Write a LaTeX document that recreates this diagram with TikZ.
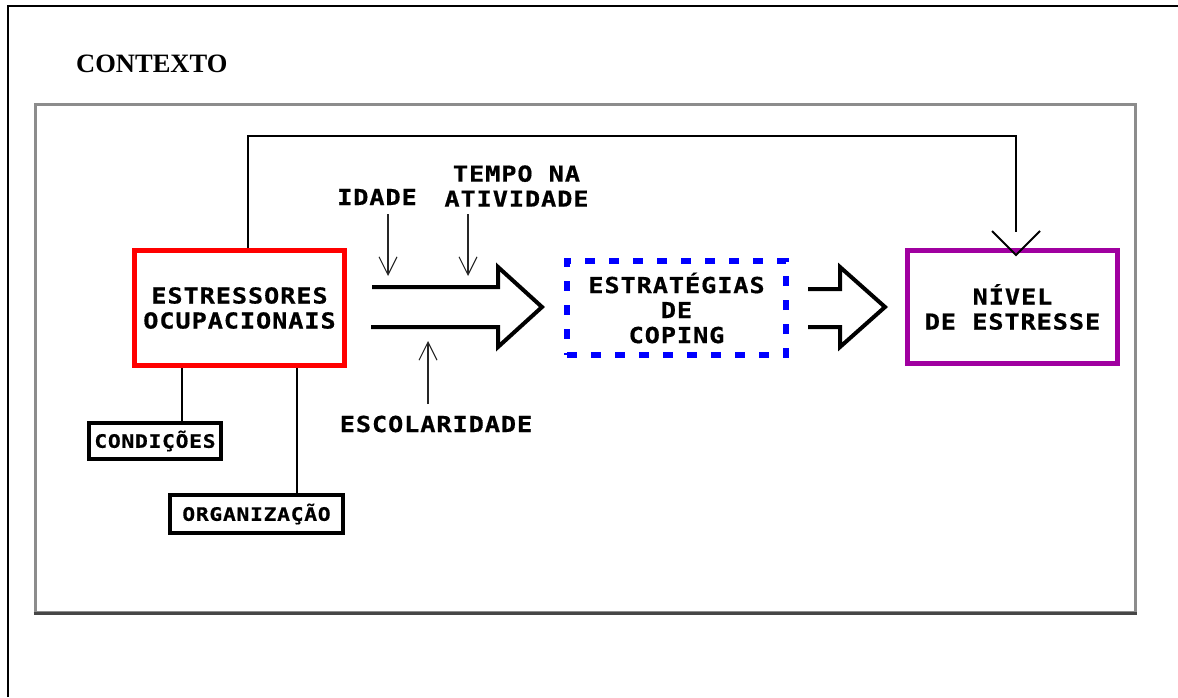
\documentclass[tikz,border=0pt]{standalone}
\usepackage{fontspec}
\setmainfont{Liberation Serif}
\newfontfamily\pix[FakeStretch=1.15,LetterSpace=4,FakeBold=0.6]{DejaVu Sans Mono}
\usetikzlibrary{arrows.meta,calc}
\definecolor{boxred}{RGB}{255,0,0}
\definecolor{boxblue}{RGB}{0,0,255}
\definecolor{boxpurple}{RGB}{160,0,160}
\definecolor{framegray}{RGB}{140,140,140}
\definecolor{framedark}{RGB}{70,70,70}
\begin{document}
\begin{tikzpicture}[x=1pt,y=-1pt,line join=miter,
  bigtext/.style={font=\pix\bfseries\fontsize{22}{25}\selectfont},
  smalltext/.style={font=\pix\bfseries\fontsize{18.5}{22}\selectfont},
  mainbox/.style={draw, line width=5pt, inner sep=0pt, align=center, bigtext},
  subbox/.style={draw, line width=3.5pt, inner sep=0pt, align=center, smalltext},
  label/.style={inner sep=0pt, align=center, bigtext},
  thinarrow/.style={line width=1.1pt, draw=black!85, -{Straight Barb[length=18pt,width=18pt,line width=1.1pt]}},
  blockarrow/.style={line width=4pt, line join=miter, miter limit=10},
  link/.style={line width=1.5pt}]
\useasboundingbox (0,0) rectangle (1178,697);
% outer frame
\draw[line width=2pt] (8,697) -- (8,6) -- (1178,6);
\node[anchor=base west, inner sep=0pt, font=\bfseries\fontsize{26.5}{30}\selectfont] (ttl) at (76,72) {CONTEXTO};
% context box
\node[draw=framegray, line width=3pt, minimum width=1100pt, minimum height=508pt, inner sep=0pt] (ctx) at (585,358) {};
\draw[framedark, line width=3pt] (ctx.south west) -- (ctx.south east);
% main boxes
\node[mainbox, draw=boxred, minimum width=210pt, minimum height=115pt] (red) at (239.5,308) {ESTRESSORES\\OCUPACIONAIS};
\node[mainbox, draw=boxblue, line width=6pt, dash pattern=on 10pt off 14pt, minimum width=219pt, minimum height=94pt] (blue) at (676.5,308) {ESTRATÉGIAS\\DE\\COPING};
\node[mainbox, draw=boxpurple, minimum width=210pt, minimum height=113pt] (purple) at (1012.5,307) {NÍVEL\\DE ESTRESSE};
% sub boxes
\node[subbox, minimum width=132pt, minimum height=36pt] (cond) at (155,441) {CONDIÇÕES};
\node[subbox, minimum width=173pt, minimum height=38pt] (org) at (256.5,514) {ORGANIZAÇÃO};
\draw[link] ([xshift=27pt]cond.north) -- ([xshift=27pt]cond.north |- red.south);
\draw[link] ([xshift=40.5pt]org.north) -- ([xshift=40.5pt]org.north |- red.south);
% labels
\node[label, anchor=base] (idade) at (377,205) {IDADE};
\node[label] (tempo) at (516.5,186) {TEMPO NA\\ATIVIDADE};
\node[label, anchor=base] (esc) at (436,432) {ESCOLARIDADE};
% thin arrows
\coordinate (ia) at (388,214);
\coordinate (ib) at (388,276);
\coordinate (ta) at (468,214);
\coordinate (tb) at (468,276);
\coordinate (ea) at (428,404);
\coordinate (eb) at (428,341);
\draw[thinarrow] (ia) -- (ib);
\draw[thinarrow] (ta) -- (tb);
\draw[thinarrow] (ea) -- (eb);
% block arrows
\coordinate (a1s) at (372,287);
\coordinate (a1t) at (542,307);
\draw[blockarrow] (a1s) -- (498,287) -- (498,267) -- (a1t) -- (498,347) -- (498,327) -- (371,327);
\coordinate (a2s) at (808,289);
\coordinate (a2t) at (885,307);
\draw[blockarrow] (a2s) -- (840,289) -- (840,267) -- (a2t) -- (840,347) -- (840,327) -- (808,327);
% feedback line
\coordinate (fbc) at (1016,136);
\coordinate (fbe) at (1016,232);
\coordinate (fbt) at (1016,255);
\draw[line width=2pt] ([xshift=8.5pt]red.north) |- (fbc) -- (fbe);
\draw[line width=2pt] (992,231) -- (fbt) -- (1040,231);
\end{tikzpicture}
\end{document}
